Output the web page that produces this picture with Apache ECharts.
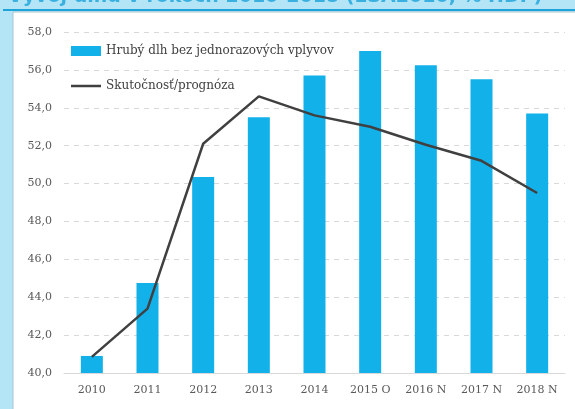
<!DOCTYPE html>
<html><head><meta charset="utf-8">
<script src="https://cdn.jsdelivr.net/npm/echarts@6/dist/echarts.min.js"></script>
<style>html,body{margin:0;padding:0;background:#b3e5f7}#c{width:575px;height:409px}</style>
</head><body><div id="c"></div>
<script>
var categories = ['2010','2011','2012','2013','2014','2015 O','2016 N','2017 N','2018 N'];
var debtValues = [40.9, 44.75, 50.35, 53.5, 55.7, 57.0, 56.25, 55.5, 53.7];
var actualForecast = [40.85, 43.4, 52.1, 54.6, 53.6, 53.0, 52.05, 51.2, 49.5];
var barName = 'Hrubý dlh bez jednorazových vplyvov';
var lineName = 'Skutočnosť/prognóza';
var titleText = 'Vývoj dlhu v rokoch 2010-2018 (ESA2010, % HDP)';

var chart = echarts.init(document.getElementById('c'));
var font = 'DejaVu Serif';
chart.setOption({
  backgroundColor: '#b3e5f7',
  animation: false,
  graphic: [
    {type:'rect', shape:{x:13,y:12,width:570,height:400}, style:{fill:'#ffffff', stroke:'#a9c3cf', lineWidth:1}, z:-10},
    {type:'rect', shape:{x:3,y:9,width:572,height:2}, style:{fill:'#1ea3d9'}, z:-10},
    {type:'text', left:8, top:-12, style:{text:titleText, fill:'#3ab0e0', font:'bold 19px "DejaVu Sans"'}, z:-10}
  ],
  grid: {left:64, right:10, top:32, bottom:36},
  legend: {
    orient:'vertical', left:66, top:40, itemWidth:30, itemHeight:10, itemGap:23,
    textStyle:{fontFamily:font, fontSize:12, color:'#404040'},
    data:[
      {name:barName, icon:'rect'},
      {name:lineName, icon:'path://M0,0L0.01,0L0,0.01Z M0,3.7H30V6.3H0Z M30,10L29.99,10L30,9.99Z'}
    ]
  },
  xAxis: {
    type:'category', data:categories,
    axisLine:{lineStyle:{color:'#d9d9d9'}}, axisTick:{show:false},
    axisLabel:{fontFamily:font, fontSize:11, color:'#595959', margin:12}
  },
  yAxis: {
    type:'value', min:40, max:58, interval:2,
    axisLine:{show:false}, axisTick:{show:false},
    splitLine:{lineStyle:{color:'#d9d9d9', type:[5,5]}},
    axisLabel:{fontFamily:font, fontSize:11, color:'#595959', margin:12,
      formatter:function(v){return v.toFixed(1).replace('.',',');}}
  },
  series: [
    {name:barName, type:'bar', data:debtValues, barWidth:22, itemStyle:{color:'#13b1e9'}},
    {name:lineName, type:'line', data:actualForecast, symbol:'none', z:5,
      lineStyle:{color:'#404040', width:2.5}, itemStyle:{color:'#404040'}}
  ]
});
</script></body></html>
